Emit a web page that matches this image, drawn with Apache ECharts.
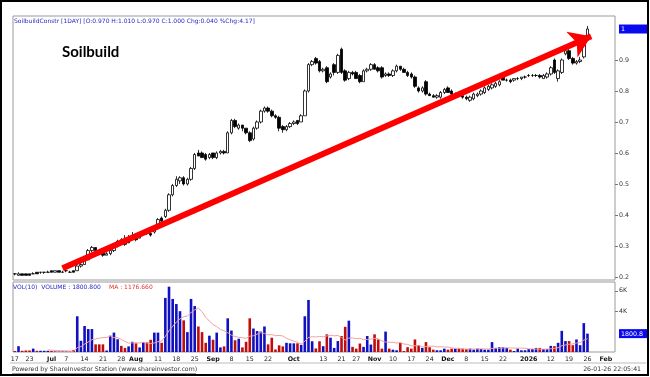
<!DOCTYPE html>
<html>
<head>
<meta charset="utf-8">
<script src="https://cdn.jsdelivr.net/npm/echarts@6/dist/echarts.min.js"></script>
<style>
  html, body { margin: 0; padding: 0; background: #fff; }
  #chart { width: 650px; height: 377px; }
</style>
</head>
<body>
<div id="chart"></div>
<script>
// trading calendar (SGX), Jun 17 2025 .. Feb 4 2026
const startDate = '2025-06-17';
const endDate = '2026-02-04';
const holidays = ['2025-10-20', '2025-12-25', '2026-01-01'];

// daily prices
const openP = [
  .210, .205, .210, .210, .210, .210, .215, .215, .215, .215,
  .220, .215, .220, .215, .220, .215, .220, .220, .235, .240,
  .255, .285, .295, .285, .280, .270, .275, .285, .300, .320,
  .320, .325, .330, .330, .325, .345, .345, .340, .345, .365,
  .390, .395, .415, .465, .495, .510, .520, .500, .515, .550,
  .600, .600, .595, .585, .600, .585, .600, .605, .600, .665,
  .705, .680, .690, .680, .665, .645, .680, .700, .735, .745,
  .735, .720, .715, .685, .675, .685, .695, .705, .700, .720,
  .800, .885, .905, .895, .865, .875, .845, .885, .860, .935,
  .865, .840, .860, .860, .850, .830, .865, .870, .885, .875,
  .875, .850, .855, .850, .865, .880, .870, .860, .855, .845,
  .810, .800, .830, .790, .785, .780, .780, .795, .810, .800,
  .790, .790, .785, .780, .770, .775, .785, .790, .795, .805,
  .810, .815, .820, .850, .835, .835, .835, .840, .840, .845,
  .850, .850, .850, .850, .840, .845, .855, .900, .840, .860,
  .920, .930, .905, .890, .895, .910, .970
];
const highP = [
  .210, .215, .210, .210, .210, .215, .215, .215, .215, .220,
  .220, .220, .220, .220, .220, .220, .220, .240, .245, .260,
  .290, .300, .295, .290, .280, .280, .290, .300, .320, .325,
  .335, .335, .345, .335, .335, .350, .350, .345, .365, .390,
  .395, .420, .470, .500, .525, .525, .525, .520, .555, .600,
  .610, .605, .600, .600, .600, .605, .610, .610, .670, .710,
  .710, .695, .690, .680, .670, .685, .705, .740, .750, .750,
  .740, .725, .720, .690, .690, .700, .705, .705, .725, .805,
  .890, .900, .910, .900, .875, .880, .860, .890, .920, .940,
  .870, .865, .865, .865, .855, .870, .875, .890, .890, .880,
  .880, .860, .860, .870, .885, .880, .875, .865, .860, .850,
  .815, .815, .835, .795, .790, .790, .800, .810, .815, .805,
  .795, .790, .790, .785, .785, .795, .795, .805, .815, .820,
  .825, .830, .835, .850, .840, .840, .840, .845, .845, .850,
  .855, .855, .855, .855, .855, .860, .880, .905, .870, .905,
  .935, .935, .910, .900, .910, .975, 1.010
];
const lowP = [
  .205, .205, .205, .205, .205, .210, .210, .210, .210, .215,
  .215, .215, .215, .215, .215, .215, .215, .220, .230, .240,
  .255, .280, .280, .275, .265, .270, .270, .280, .295, .310,
  .300, .320, .325, .315, .325, .345, .335, .330, .340, .365,
  .375, .390, .410, .460, .490, .500, .495, .495, .510, .545,
  .590, .585, .575, .580, .580, .580, .595, .595, .600, .660,
  .680, .675, .670, .660, .635, .640, .675, .695, .730, .730,
  .715, .710, .670, .665, .670, .680, .690, .690, .700, .720,
  .795, .880, .885, .860, .860, .825, .840, .850, .855, .855,
  .830, .835, .850, .840, .825, .830, .860, .865, .870, .860,
  .840, .845, .845, .845, .860, .865, .860, .845, .840, .810,
  .795, .795, .785, .785, .780, .775, .775, .790, .795, .785,
  .785, .780, .775, .770, .765, .770, .780, .785, .790, .800,
  .805, .810, .815, .835, .830, .825, .830, .835, .835, .840,
  .845, .845, .845, .840, .840, .840, .850, .855, .830, .855,
  .915, .900, .885, .885, .890, .905, .970
];
const closeP = [
  .210, .210, .205, .205, .205, .210, .210, .215, .215, .215,
  .215, .220, .215, .215, .220, .215, .215, .235, .240, .255,
  .285, .295, .285, .280, .270, .275, .285, .300, .315, .310,
  .305, .310, .325, .320, .330, .345, .340, .335, .360, .385,
  .380, .415, .465, .495, .515, .520, .500, .515, .550, .595,
  .590, .585, .580, .595, .585, .600, .605, .600, .665, .705,
  .685, .690, .680, .665, .640, .680, .700, .735, .745, .735,
  .720, .715, .680, .675, .685, .695, .700, .695, .720, .800,
  .885, .895, .890, .865, .870, .830, .855, .860, .915, .860,
  .835, .860, .855, .840, .830, .865, .870, .885, .870, .865,
  .845, .855, .850, .865, .880, .870, .860, .850, .845, .815,
  .800, .810, .790, .785, .780, .785, .795, .805, .795, .790,
  .790, .785, .780, .775, .780, .790, .790, .800, .810, .815,
  .820, .825, .830, .835, .835, .830, .840, .840, .845, .845,
  .850, .850, .850, .845, .850, .855, .875, .860, .865, .900,
  .930, .905, .890, .895, .900, .970, 1.000
];
// daily volume
const volume = [
  100, 570, 120, 150, 150, 330, 120, 120, 120, 120,
  100, 50, 50, 50, 50, 60, 200, 3500, 1100, 2550,
  2250, 2250, 750, 750, 750, 150, 1600, 1900, 1250, 600,
  400, 550, 1000, 850, 450, 950, 950, 1200, 1900, 1900,
  900, 5300, 6400, 5200, 4700, 4000, 3100, 1950, 5200, 4500,
  2500, 1950, 900, 1600, 1200, 1900, 450, 550, 3300, 2100,
  1150, 1300, 450, 1000, 3300, 2300, 2050, 2000, 2500, 750,
  1400, 250, 650, 550, 900, 850, 850, 850, 700, 3500,
  5100, 1050, 350, 1050, 570, 1730, 1400, 400, 1070, 1570,
  2470, 3070, 500, 330, 830, 500, 1570, 730, 1730, 1230,
  330, 2000, 330, 230, 170, 900, 100, 470, 330, 1230,
  670, 400, 970, 470, 230, 170, 170, 330, 230, 330,
  330, 330, 330, 300, 330, 230, 330, 300, 230, 230,
  970, 400, 470, 470, 400, 230, 100, 330, 170, 170,
  300, 300, 400, 400, 300, 300, 600, 570, 900, 2070,
  1070, 1070, 670, 1230, 670, 2830, 1800.8
];

// x axis tick labels
const xTickDates = ['2025-06-17', '2025-06-23', '2025-07-01', '2025-07-07', '2025-07-14', '2025-07-21', '2025-07-28',
  '2025-08-01', '2025-08-11', '2025-08-18', '2025-08-25', '2025-09-01', '2025-09-08', '2025-09-15', '2025-09-22',
  '2025-10-01', '2025-10-13', '2025-10-21', '2025-10-27', '2025-11-03', '2025-11-10', '2025-11-17', '2025-11-24',
  '2025-12-01', '2025-12-08', '2025-12-15', '2025-12-22', '2026-01-02', '2026-01-12', '2026-01-19', '2026-01-26',
  '2026-02-02'];
const xTickLabels = ['17', '23', 'Jul', '7', '14', '21', '28', 'Aug', '11', '18', '25', 'Sep', '8', '15', '22',
  'Oct', '13', '21', '27', 'Nov', '10', '17', '24', 'Dec', '8', '15', '22', '2026', '12', '19', '26', 'Feb'];
const priceTicks = [0.2, 0.3, 0.4, 0.5, 0.6, 0.7, 0.8, 0.9, 1];
const volTicks = [1800.8, 4000, 6000];
const lastPrice = 1;
const lastVol = 1800.8;

function tradingDays(from, to, skip) {
  const out = [];
  const d = new Date(from + 'T00:00:00Z');
  const end = new Date(to + 'T00:00:00Z');
  while (d <= end) {
    const s = d.toISOString().slice(0, 10);
    const wd = d.getUTCDay();
    if (wd !== 0 && wd !== 6 && skip.indexOf(s) < 0) out.push(s);
    d.setUTCDate(d.getUTCDate() + 1);
  }
  return out;
}

const dates = tradingDays(startDate, endDate, holidays);
const labelMap = {};
xTickDates.forEach((d, i) => { labelMap[d] = xTickLabels[i]; });

const candles = openP.map((o, i) => [o, closeP[i], lowP[i], highP[i]]);
const volBars = volume.map((v, i) => {
  const up = i === 0 ? false : (closeP[i] > closeP[i - 1] || (closeP[i] === closeP[i - 1] && closeP[i] >= openP[i]));
  return { value: v, itemStyle: { color: up ? '#1010c0' : '#c00c0c' } };
});
// 10 day moving average of volume
const volMA = volume.map((v, i) => {
  if (i < 9) return '-';
  let s = 0;
  for (let k = i - 9; k <= i; k++) s += volume[k];
  return s / 10;
});

const FONT = 'DejaVu Sans';
const chart = echarts.init(document.getElementById('chart'));

const option = {
  backgroundColor: '#fff',
  animation: false,
  textStyle: { fontFamily: FONT },
  grid: [
    { left: 13, right: 35, top: 16, height: 264, show: true, borderColor: '#9a9a9a', borderWidth: 1 },
    { left: 13, right: 35, top: 282, height: 70, show: true, borderColor: '#9a9a9a', borderWidth: 1 }
  ],
  xAxis: [
    {
      type: 'category', data: dates, gridIndex: 0, boundaryGap: true,
      axisLine: { show: false }, axisTick: { show: false }, axisLabel: { show: false }, splitLine: { show: false }
    },
    {
      type: 'category', data: dates, gridIndex: 1, boundaryGap: true,
      axisLine: { show: false }, axisTick: { show: false }, splitLine: { show: false },
      axisLabel: {
        interval: (idx, val) => labelMap[val] !== undefined,
        formatter: (val) => {
          const t = labelMap[val];
          return /^\d{1,2}$/.test(t) ? t : '{b|' + t + '}';
        },
        fontSize: 6.3, color: '#222', margin: 4, fontFamily: FONT,
        rich: { b: { fontSize: 6.3, fontWeight: 'bold', color: '#111', fontFamily: FONT } }
      }
    }
  ],
  yAxis: [
    {
      type: 'value', gridIndex: 0, position: 'right', min: 0.19, max: 1.042,
      splitLine: { show: false }, axisLine: { show: false },
      axisTick: { show: true, length: 3, lineStyle: { color: '#777' }, customValues: priceTicks.slice(0, 8) },
      axisLabel: {
        customValues: priceTicks, fontSize: 6.3, color: '#333', margin: 4, fontFamily: FONT,
        formatter: (v) => v === lastPrice ? '{cur|' + v + '}' : v.toFixed(1),
        rich: { cur: { backgroundColor: '#0a0af0', color: '#fff', width: 24, padding: [2, 2, 1, 2], fontSize: 6.3, fontFamily: FONT } }
      }
    },
    {
      type: 'value', gridIndex: 1, position: 'right', min: 0, max: 6860,
      splitLine: { show: false }, axisLine: { show: false },
      axisTick: { show: true, length: 3, lineStyle: { color: '#777' }, customValues: volTicks.slice(1) },
      axisLabel: {
        customValues: volTicks, fontSize: 6.3, color: '#333', margin: 4, fontFamily: FONT,
        formatter: (v) => v === lastVol ? '{cur|' + v + '}' : (v / 1000) + 'K',
        rich: { cur: { backgroundColor: '#0a0af0', color: '#fff', width: 24, padding: [2, 2, 1, 2], fontSize: 6.3, fontFamily: FONT } }
      }
    }
  ],
  series: [
    {
      type: 'candlestick', xAxisIndex: 0, yAxisIndex: 0, data: candles, barWidth: 3,
      itemStyle: { color: '#fff', color0: '#000', borderColor: '#000', borderColor0: '#000', borderWidth: 0.8 },
      markLine: {
        silent: true, symbol: ['none', 'arrow'], symbolSize: 21,
        label: { show: false },
        lineStyle: { color: '#ff0000', width: 6, type: 'solid', opacity: 1 },
        emphasis: { disabled: true },
        data: [[{ coord: [13, 0.228] }, { coord: [157, 0.977] }]]
      }
    },
    {
      type: 'bar', xAxisIndex: 1, yAxisIndex: 1, data: volBars, barWidth: 2.6
    },
    {
      type: 'line', xAxisIndex: 1, yAxisIndex: 1, data: volMA, symbol: 'none', smooth: false,
      lineStyle: { color: '#f2a0a0', width: 1 }
    }
  ],
  graphic: [
    { type: 'rect', shape: { x: 1, y: 1, width: 647, height: 374 }, style: { fill: 'none', stroke: '#000', lineWidth: 2 } },
    { type: 'line', shape: { x1: 10, y1: 363, x2: 646, y2: 363 }, style: { stroke: '#bbb', lineWidth: 1 } },
    { type: 'text', left: 14, top: 18, style: { text: 'SoilbuildConstr [1DAY] [O:0.970 H:1.010 L:0.970 C:1.000 Chg:0.040 %Chg:4.17]', fill: '#2828c8', font: '6px "DejaVu Sans"' } },
    { type: 'text', left: 62, top: 45, style: { text: 'Soilbuild', fill: '#000', font: 'bold 15px Lato' } },
    { type: 'text', left: 13, top: 284, style: { text: 'VOL(10)  VOLUME : 1800.800', fill: '#2828c8', font: '6px "DejaVu Sans"' } },
    { type: 'text', left: 109, top: 284, style: { text: 'MA : 1176.660', fill: '#e03030', font: '6px "DejaVu Sans"' } },
    { type: 'text', left: 12, top: 366, style: { text: 'Powered by ShareInvestor Station (www.shareinvestor.com)', fill: '#333', font: '6.2px "DejaVu Sans"' } },
    { type: 'line', shape: { x1: 12, y1: 373.5, x2: 196, y2: 373.5 }, style: { stroke: '#555', lineWidth: 0.6 } },
    { type: 'text', right: 9, top: 366, style: { text: '26-01-26 22:05:41', fill: '#333', font: '6.2px "DejaVu Sans"' } }
  ]
};

chart.setOption(option);
</script>
</body>
</html>
